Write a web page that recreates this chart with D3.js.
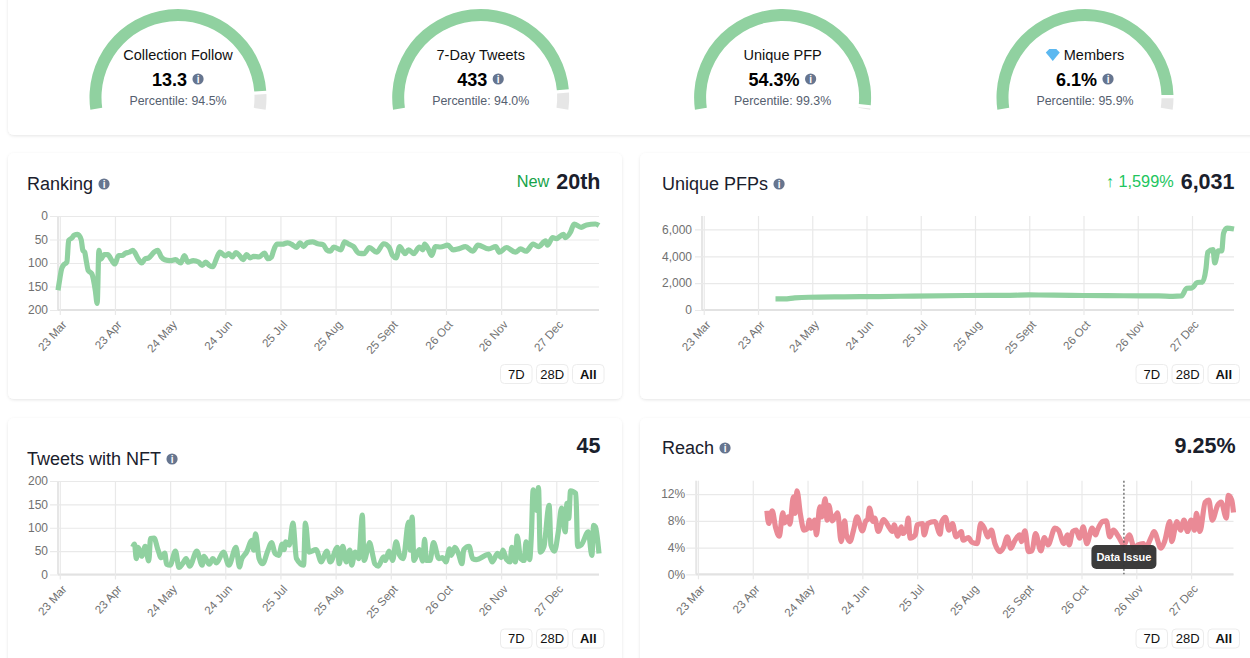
<!DOCTYPE html>
<html>
<head>
<meta charset="utf-8">
<script src="https://cdn.jsdelivr.net/npm/d3@7"></script>
<style>
  html, body { margin: 0; padding: 0; background: #fff; }
  svg { display: block; font-family: "Liberation Sans", Arial, sans-serif; }
</style>
</head>
<body>
<script>
// gauges
var gaugeTitles = ['Collection Follow', '7-Day Tweets', 'Unique PFP', 'Members'];
var gaugeValues = ['13.3', '433', '54.3%', '6.1%'];
var gaugePercentiles = [94.5, 94.0, 99.3, 95.9];

// x axis, in days since 23 Mar
var tickDays = [0, 31, 62, 93, 124, 155, 186, 217, 248, 279];
var tickLabels = ['23 Mar', '23 Apr', '24 May', '24 Jun', '25 Jul', '25 Aug', '25 Sept', '26 Oct', '26 Nov', '27 Dec'];

var rankingDays = [-1, 0, 1, 2, 4, 5, 7, 8, 10, 12, 13, 14, 15, 16, 18, 20, 21, 22, 23, 25, 27, 29, 31, 33, 35, 37, 39, 41, 42, 44, 46, 48, 50, 53, 55, 57, 59, 62, 65, 68, 70, 72, 75, 78, 80, 82, 84, 86, 88, 90, 93, 95, 97, 99, 101, 103, 105, 107, 109, 112, 115, 117, 119, 120, 122, 125, 128, 131, 133, 135, 137, 139, 142, 145, 148, 150, 152, 154, 158, 160, 162, 165, 168, 171, 174, 178, 182, 185, 187, 189, 191, 194, 196, 199, 202, 204, 205, 207, 209, 211, 214, 218, 221, 224, 228, 232, 235, 241, 245, 247, 251, 256, 259, 262, 266, 269, 273, 274, 277, 279, 283, 284, 287, 289, 293, 296, 301, 303];
var rankingValues = [158, 134, 113, 105, 98, 52, 46, 41, 39, 50, 73, 77, 98, 116, 123, 159, 186, 73, 92, 82, 82, 93, 102, 84, 84, 79, 77, 73, 77, 91, 100, 91, 89, 77, 73, 87, 93, 95, 93, 100, 84, 98, 95, 98, 105, 98, 105, 108, 91, 77, 85, 80, 87, 78, 84, 93, 82, 89, 86, 87, 79, 91, 87, 75, 60, 60, 57, 62, 67, 57, 65, 57, 55, 59, 61, 72, 75, 66, 72, 55, 59, 65, 79, 80, 67, 77, 59, 66, 84, 89, 65, 80, 72, 80, 66, 72, 60, 70, 84, 65, 66, 62, 72, 70, 65, 75, 62, 70, 65, 77, 67, 77, 70, 75, 60, 65, 53, 62, 46, 48, 39, 46, 34, 17, 24, 19, 17, 20];

var pfpDays = [41, 46, 52, 60, 80, 100, 120, 150, 175, 186, 200, 217, 240, 260, 268, 273, 276, 279, 282, 285, 287, 288, 291, 292, 294, 296, 297, 299, 303];
var pfpValues = [830, 830, 900, 950, 980, 1000, 1040, 1080, 1090, 1120, 1110, 1080, 1060, 1050, 1020, 1050, 1620, 1650, 2050, 2080, 3100, 4300, 4500, 3500, 4400, 4400, 5700, 6100, 6031];

var tweetDays = [41, 42, 43, 44, 46, 48, 50, 51, 53, 55, 57, 59, 60, 62, 65, 67, 69, 71, 73, 77, 80, 81, 84, 86, 88, 92, 95, 99, 101, 102, 105, 108, 109, 110, 112, 114, 117, 119, 121, 123, 125, 126, 127, 129, 131, 133, 137, 138, 140, 144, 147, 150, 152, 156, 157, 159, 161, 163, 164, 166, 168, 170, 171, 173, 174, 176, 177, 179, 182, 183, 185, 187, 189, 191, 193, 196, 197, 198, 199, 202, 204, 205, 206, 208, 210, 213, 215, 217, 219, 220, 222, 224, 226, 227, 230, 232, 234, 241, 243, 246, 248, 249, 251, 253, 254, 256, 257, 259, 261, 262, 264, 265, 266, 268, 269, 270, 272, 275, 276, 278, 280, 282, 284, 285, 286, 287, 290, 291, 293, 297, 299, 300, 301, 303];
var tweetValues = [59, 65, 34, 58, 39, 60, 29, 77, 78, 55, 36, 46, 22, 20, 50, 15, 23, 34, 18, 50, 20, 39, 22, 34, 25, 48, 20, 58, 16, 30, 48, 73, 52, 87, 34, 23, 52, 68, 45, 41, 65, 53, 70, 63, 110, 34, 20, 110, 48, 53, 27, 50, 27, 58, 23, 60, 27, 52, 20, 48, 34, 127, 30, 55, 68, 39, 23, 18, 38, 30, 50, 30, 70, 41, 34, 112, 52, 123, 30, 53, 29, 75, 30, 30, 68, 34, 36, 27, 55, 41, 58, 45, 23, 53, 60, 34, 32, 43, 27, 45, 36, 52, 32, 27, 58, 27, 82, 34, 30, 70, 32, 84, 181, 137, 186, 48, 59, 148, 63, 50, 88, 142, 91, 152, 120, 179, 173, 60, 63, 91, 41, 105, 102, 45];

var reachDays = [39, 40, 42, 44, 46, 48, 49, 51, 52, 54, 55, 56, 58, 60, 62, 63, 64, 66, 67, 69, 70, 72, 73, 74, 76, 79, 81, 83, 84, 86, 88, 90, 93, 95, 96, 97, 99, 100, 102, 105, 108, 110, 111, 113, 115, 116, 118, 119, 120, 123, 124, 127, 128, 130, 134, 137, 138, 140, 142, 144, 146, 149, 150, 153, 155, 158, 160, 162, 164, 166, 168, 171, 173, 175, 177, 179, 182, 183, 185, 187, 189, 191, 194, 196, 198, 202, 204, 207, 209, 210, 212, 214, 216, 218, 220, 223, 225, 226, 229, 231, 233, 235, 238, 241, 244, 247, 249, 252, 253, 257, 258, 262, 264, 267, 268, 271, 273, 275, 277, 279, 281, 282, 284, 287, 289, 291, 294, 296, 299, 300, 302, 303];
var reachValues = [9.5, 7.6, 9.5, 6.9, 5.7, 9.2, 7.7, 8.6, 7.5, 11.6, 9.1, 12.5, 8.9, 6.6, 6.9, 8.1, 6.9, 8.1, 5.9, 10.1, 8.6, 11.3, 8.1, 10.3, 8.0, 9.2, 4.9, 8, 5.9, 4.9, 6.6, 8.6, 6.5, 8, 8.2, 9.9, 7.9, 8.4, 6.4, 8.2, 7.1, 6.4, 7.4, 5.7, 7.1, 6.1, 6.9, 8.4, 5.4, 5.9, 7.4, 7.6, 5.9, 7.6, 7.9, 6, 7.9, 8.5, 6.6, 7.6, 5.6, 6.4, 5.1, 5.5, 4.8, 4.6, 7.6, 6.9, 5.6, 6.6, 4.6, 3.4, 4.1, 5.6, 3.9, 4.9, 5.9, 4.9, 6.5, 3.4, 3.5, 6.1, 3.5, 5.5, 4.4, 6.9, 6.6, 4.6, 5.9, 4.4, 6.4, 6.6, 5.4, 7.1, 4.6, 6.9, 5.9, 6.6, 7.9, 8, 5.6, 6.6, 5.6, 4.4, 5.9, 3.9, 4.4, 4.6, 3.9, 5.9, 6.4, 3.9, 4.9, 7.9, 4.9, 7.9, 6.6, 8.1, 6.4, 8.1, 6.6, 9.1, 6.4, 10.8, 11.1, 8.1, 10.3, 10.8, 8.4, 11.8, 11.1, 9.25];
var issueDay = 241;

var green = '#90d1a0', red = '#ea8a96', grey = '#e6e6e6';
var ink = '#1a202c', iconColor = '#66758f';

var svg = d3.select('body').append('svg').attr('width', 1250).attr('height', 658);

var defs = svg.append('defs');
defs.append('filter').attr('id', 'cardShadow')
    .attr('x', '-5%').attr('y', '-5%').attr('width', '110%').attr('height', '110%')
  .append('feDropShadow')
    .attr('dx', 0).attr('dy', 1).attr('stdDeviation', 1.5)
    .attr('flood-color', '#000').attr('flood-opacity', 0.1);

function card(x, y, w, h) {
  svg.append('rect').attr('x', x).attr('y', y).attr('width', w).attr('height', h)
      .attr('rx', 6).attr('fill', '#fff').attr('filter', 'url(#cardShadow)');
}

function infoIcon(g, x, y) {
  g.append('circle').attr('cx', x).attr('cy', y).attr('r', 5.6).attr('fill', iconColor);
  g.append('text').attr('x', x).attr('y', y + 3.6).attr('text-anchor', 'middle')
      .attr('font-size', 10).attr('font-weight', 700).attr('fill', '#fff').text('i');
}

card(8, -20, 1262, 155);
card(8, 153, 614, 246);
card(640, 153, 630, 246);
card(8, 418, 614, 260);
card(640, 418, 630, 260);

// gauges ------------------------------------------------------------
var gaugeCenters = [178, 480.7, 782.6, 1085];
var gaugeAngle = 99 * Math.PI / 180;
var gaugePie = d3.pie().sort(null)
    .startAngle(-gaugeAngle).endAngle(gaugeAngle).padAngle(0.028);
var gaugeArc = d3.arc().innerRadius(76.5).outerRadius(88.5);

gaugeTitles.forEach(function(title, i) {
  var g = svg.append('g').attr('transform', 'translate(' + gaugeCenters[i] + ',0)');
  var arcs = gaugePie([gaugePercentiles[i], 100 - gaugePercentiles[i]]);
  g.selectAll('path').data(arcs).enter().append('path')
      .attr('transform', 'translate(0,97.5)')
      .attr('d', gaugeArc)
      .attr('fill', function(d, j) { return j == 0 ? green : grey; });

  var titleText = g.append('text').attr('y', 60).attr('text-anchor', 'middle')
      .attr('font-size', 14.5).attr('fill', '#111').text(title);
  if (title == 'Members') {
    // the diamond in front of the title
    var w = titleText.node().getComputedTextLength();
    titleText.attr('x', 9);
    var left = 9 - w / 2 - 11;
    var pts = [[-7, -2.5], [-3.5, -6], [3.5, -6], [7, -2.5], [0, 6]];
    g.append('path')
        .attr('transform', 'translate(' + left + ',55)')
        .attr('d', d3.line()(pts) + 'Z').attr('fill', '#5cb8f0');
  }

  var value = g.append('text').attr('y', 86).attr('font-size', 18)
      .attr('font-weight', 700).attr('fill', '#000').text(gaugeValues[i]);
  var vw = value.node().getComputedTextLength();
  value.attr('x', -(vw + 16) / 2 - 0.5);
  infoIcon(g, (vw + 16) / 2 - 5.5, 79);

  g.append('text').attr('y', 105).attr('text-anchor', 'middle')
      .attr('font-size', 12.4).attr('fill', '#55606f')
      .text('Percentile: ' + gaugePercentiles[i].toFixed(1) + '%');
});

// line panels -------------------------------------------------------
function panel(o) {
  var g = svg.append('g');
  var x = d3.scaleLinear().domain([-1, 303]).range([o.left, o.right]);
  var y = d3.scaleLinear().domain(o.yDomain).range(o.yRange);
  var plotW = o.right - o.left;
  var bottom = Math.max(o.yRange[0], o.yRange[1]);
  var top = Math.min(o.yRange[0], o.yRange[1]);

  var yAxis = d3.axisLeft(y).tickValues(o.yTicks).tickSize(-plotW)
      .tickPadding(o.yPad).tickFormat(o.yFormat);
  var yg = g.append('g').attr('transform', 'translate(' + o.left + ',0)').call(yAxis);
  yg.selectAll('.tick line').attr('x1', -o.yStub).attr('stroke', '#e9e9e9').attr('stroke-width', 1.2);
  yg.select('.domain').attr('d', 'M0,' + top + 'V' + bottom).attr('stroke', '#e6e6e6').attr('stroke-width', 2);

  var xAxis = d3.axisBottom(x).tickValues(tickDays).tickSize(-(bottom - top))
      .tickFormat(function(d, i) { return tickLabels[i]; });
  var xg = g.append('g').attr('transform', 'translate(0,' + bottom + ')').call(xAxis);
  xg.selectAll('.tick line').attr('y1', 5).attr('stroke', '#e9e9e9').attr('stroke-width', 1.2);
  xg.select('.domain').attr('d', 'M' + o.left + ',0H' + o.right).attr('stroke', '#e2e2e2').attr('stroke-width', 2);
  xg.selectAll('.tick text')
      .attr('text-anchor', 'end').attr('y', 0).attr('dy', 0)
      .attr('transform', 'translate(7,15) rotate(-48)');
  g.selectAll('.tick text').attr('fill', '#707070')
      .attr('font-family', '"Liberation Sans", Arial, sans-serif');
  yg.selectAll('.tick text').attr('font-size', 12);
  xg.selectAll('.tick text').attr('font-size', 11.6);

  var line = d3.line()
      .x(function(d) { return x(d[0]); })
      .y(function(d) { return y(d[1]); })
      .curve(d3.curveMonotoneX);
  g.append('path').datum(d3.zip(o.days, o.values))
      .attr('d', line).attr('fill', 'none')
      .attr('stroke', o.color).attr('stroke-width', 5.2)
      .attr('stroke-linejoin', 'round');

  // header
  var head = g.append('text').attr('x', o.titleX).attr('y', o.titleY)
      .attr('font-size', 18).attr('fill', ink).text(o.title);
  var tw = head.node().getComputedTextLength();
  infoIcon(g, o.titleX + tw + 11, o.titleY - 6);

  var big = g.append('text').attr('x', o.valueX).attr('y', o.valueY)
      .attr('text-anchor', 'end').attr('font-size', 21.5)
      .attr('font-weight', 700).attr('fill', ink).text(o.value);
  if (o.change) {
    var bw = big.node().getComputedTextLength();
    g.append('text').attr('x', o.valueX - bw - 7).attr('y', o.valueY - 2)
        .attr('text-anchor', 'end').attr('font-size', 16.3)
        .attr('fill', o.changeColor).text(o.change);
  }

  // range buttons
  ['7D', '28D', 'All'].forEach(function(label, i) {
    var bx = o.buttonsX + i * 36;
    g.append('rect').attr('x', bx).attr('y', o.buttonsY).attr('width', 31.5).attr('height', 19)
        .attr('rx', 4).attr('fill', '#fff').attr('stroke', '#ececec');
    g.append('text').attr('x', bx + 15.75).attr('y', o.buttonsY + 14.2)
        .attr('text-anchor', 'middle').attr('font-size', 13)
        .attr('font-weight', label == 'All' ? 700 : 400).attr('fill', '#111').text(label);
  });

  return { g: g, x: x, y: y, top: top, bottom: bottom };
}

panel({
  title: 'Ranking', titleX: 27, titleY: 190, value: '20th', valueX: 600.5, valueY: 189,
  change: 'New', changeColor: '#16a34a', buttonsX: 500.5, buttonsY: 364.5,
  left: 58, right: 599, yDomain: [0, 200], yRange: [216, 310], yTicks: [0, 50, 100, 150, 200],
  yFormat: d3.format('d'), yPad: 10, yStub: 8, days: rankingDays, values: rankingValues, color: green
});

panel({
  title: 'Unique PFPs', titleX: 662, titleY: 190, value: '6,031', valueX: 1234.5, valueY: 189,
  change: '↑ 1,599%', changeColor: '#22c55e', buttonsX: 1136, buttonsY: 364.5,
  left: 702, right: 1234, yDomain: [0, 7000], yRange: [310, 216], yTicks: [0, 2000, 4000, 6000],
  yFormat: d3.format(','), yPad: 10, yStub: 7, days: pfpDays, values: pfpValues, color: green
});

panel({
  title: 'Tweets with NFT', titleX: 27, titleY: 465, value: '45', valueX: 600.5, valueY: 453,
  buttonsX: 500.5, buttonsY: 629,
  left: 58, right: 599, yDomain: [0, 200], yRange: [574.5, 481], yTicks: [0, 50, 100, 150, 200],
  yFormat: d3.format('d'), yPad: 10, yStub: 8, days: tweetDays, values: tweetValues, color: green
});

var reach = panel({
  title: 'Reach', titleX: 662, titleY: 454, value: '9.25%', valueX: 1235.5, valueY: 453,
  buttonsX: 1136, buttonsY: 629,
  left: 696.2, right: 1233.5, yDomain: [0, 14], yRange: [574.3, 480.7], yTicks: [0, 4, 8, 12],
  yFormat: function(d) { return d + '%'; }, yPad: 11, yStub: 10, days: reachDays, values: reachValues, color: red
});

// the data issue marker on the reach chart
var ix = reach.x(issueDay);
reach.g.append('line').attr('x1', ix).attr('x2', ix).attr('y1', reach.top).attr('y2', reach.bottom)
    .attr('stroke', '#555').attr('stroke-width', 1.2).attr('stroke-dasharray', '2,2');
reach.g.append('rect').attr('x', ix - 32.5).attr('y', 545).attr('width', 65).attr('height', 24)
    .attr('rx', 5).attr('fill', '#333').attr('fill-opacity', 0.96);
reach.g.append('text').attr('x', ix).attr('y', 561).attr('text-anchor', 'middle')
    .attr('font-size', 11).attr('font-weight', 700).attr('fill', '#fff').text('Data Issue');
</script>
</body>
</html>
